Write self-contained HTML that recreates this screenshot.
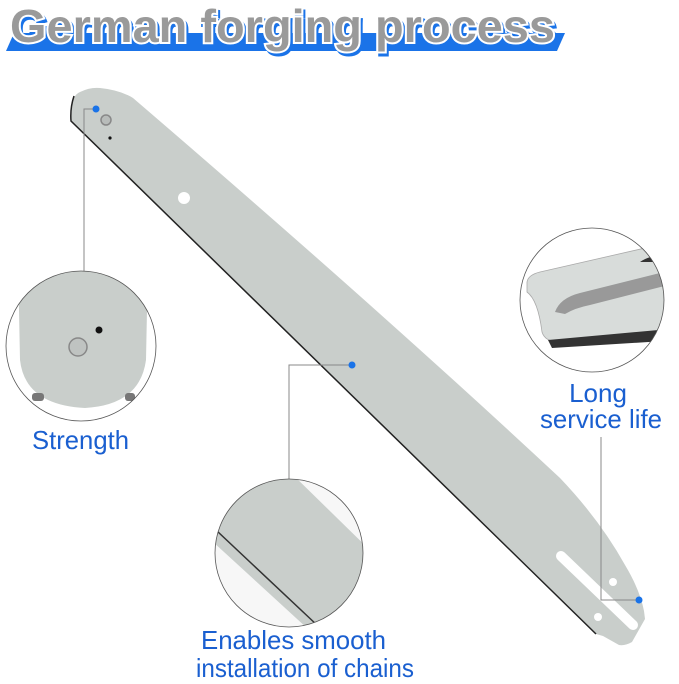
<!DOCTYPE html>
<html><head><meta charset="utf-8"><style>
html,body{margin:0;padding:0;background:#fff;}
svg{display:block;}
</style></head><body>
<svg width="679" height="684" viewBox="0 0 679 684" xmlns="http://www.w3.org/2000/svg">
<defs>
<clipPath id="cL"><circle cx="81" cy="346" r="75"/></clipPath>
<clipPath id="cM"><circle cx="289" cy="553" r="74"/></clipPath>
<clipPath id="cR"><circle cx="592" cy="300" r="72"/></clipPath>
</defs>
<polygon points="6,51 14,33 565,33 557,51" fill="#1a73e8"/>
<g font-family="Liberation Sans, sans-serif" font-weight="bold" font-size="46">
<text x="10" y="42" textLength="545" lengthAdjust="spacingAndGlyphs" fill="#1a73e8" stroke="#1a73e8" stroke-width="4" transform="translate(2,3)">German forging process</text>
<text x="10" y="42" textLength="545" lengthAdjust="spacingAndGlyphs" fill="#9a9a9a" stroke="#fff" stroke-width="4" paint-order="stroke">German forging process</text>
</g>
<path d="M71,118 Q70,96 80,92 Q90,87 100,88 Q120,90 133,98 Q380,310 560,478 Q600,520 625,565 Q640,590 644,611 L645,619 L632,642 Q625,646 619,645 L603,636 L596,634 L71,121 Z" fill="#c9cecb"/>
<path d="M74,96 Q70,108 71,121 L596,634" fill="none" stroke="#222" stroke-width="1.5"/>
<circle cx="106" cy="120" r="5" fill="#b8bcba" stroke="#888" stroke-width="1.5"/>
<circle cx="110" cy="138" r="1.6" fill="#111"/>
<circle cx="184" cy="198" r="6" fill="#fff"/>
<line x1="561" y1="556" x2="633" y2="625" stroke="#fff" stroke-width="10" stroke-linecap="round"/>
<circle cx="613" cy="582" r="4" fill="#fff"/>
<circle cx="598" cy="617" r="4" fill="#fff"/>
<polyline points="96,109 84,109 84,272" fill="none" stroke="#888" stroke-width="1"/>
<circle cx="96" cy="109" r="3.5" fill="#1a73e8"/>
<polyline points="352,365 289,365 289,479" fill="none" stroke="#888" stroke-width="1"/>
<circle cx="352" cy="365" r="3.5" fill="#1a73e8"/>
<polyline points="601,437 601,600 639,600" fill="none" stroke="#888" stroke-width="1"/>
<circle cx="639" cy="600" r="3.5" fill="#1a73e8"/>
<circle cx="81" cy="346" r="75" fill="#fff"/>
<g clip-path="url(#cL)">
<path d="M18,260 L148,260 L146,360 Q140,405 85,408 Q25,405 20,360 Z" fill="#c9cecb"/>
<rect x="32" y="393" width="12" height="8" rx="3" fill="#777"/>
<rect x="125" y="393" width="10" height="8" rx="3" fill="#777"/>
<circle cx="99" cy="330" r="3.5" fill="#111"/>
<circle cx="78" cy="347" r="9" fill="#bfc3c1" stroke="#888" stroke-width="1.5"/>
</g>
<circle cx="81" cy="346" r="75" fill="none" stroke="#555" stroke-width="0.8"/>
<circle cx="289" cy="553" r="74" fill="#f7f7f7"/>
<g clip-path="url(#cM)">
<polygon points="200,510 288,470 380,560 320,640 200,530" fill="#c9cecb"/>
<line x1="200" y1="515" x2="318" y2="626" stroke="#333" stroke-width="1.5"/>
</g>
<circle cx="289" cy="553" r="74" fill="none" stroke="#555" stroke-width="0.8"/>
<circle cx="592" cy="300" r="72" fill="#fff"/>
<g clip-path="url(#cR)">
<path d="M527,282 Q528,275 540,272 L680,240 L680,330 L560,342 Q545,342 542,332 Q538,300 527,292 Z" fill="#d8dcda" stroke="#aaa" stroke-width="0.8"/>
<path d="M548,340 L680,328 L680,340 L552,348 Z" fill="#333"/>
<path d="M555,312 Q560,298 580,293 L680,268 L680,282 L590,305 Q575,308 565,314 Z" fill="#999"/>
<path d="M640,262 Q650,255 665,255 L665,262 Z" fill="#333"/>
</g>
<circle cx="592" cy="300" r="72" fill="none" stroke="#555" stroke-width="0.8"/>
<g font-family="Liberation Sans, sans-serif" font-size="26" fill="#1a5fd0">
<text x="32" y="449" textLength="97" lengthAdjust="spacingAndGlyphs">Strength</text>
<text x="598" y="402" text-anchor="middle">Long</text>
<text x="540" y="428" textLength="122" lengthAdjust="spacingAndGlyphs">service life</text>
<text x="201" y="649" textLength="185" lengthAdjust="spacingAndGlyphs">Enables smooth</text>
<text x="196" y="677" textLength="218" lengthAdjust="spacingAndGlyphs">installation of chains</text>
</g>
</svg>
</body></html>
